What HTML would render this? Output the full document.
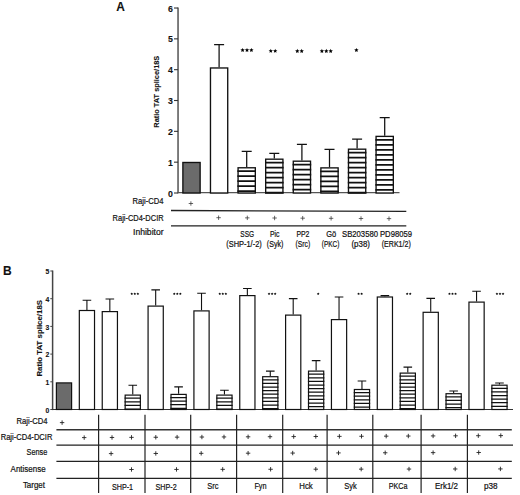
<!DOCTYPE html>
<html><head><meta charset="utf-8"><style>
html,body{margin:0;padding:0;background:#fff;}
svg{display:block;font-family:"Liberation Sans", sans-serif;}
</style></head><body>
<svg width="520" height="495" viewBox="0 0 520 495">
<rect width="520" height="495" fill="#fff"/>
<text x="116.2" y="10.5" font-size="11.9" text-anchor="start" font-weight="bold" fill="#111" stroke="#111" stroke-width="0.1" >A</text>
<path d="M178.05 7.52V193.3" stroke="#777" stroke-width="1.9" fill="none"/>
<path d="M174 193.00H178.05" stroke="#333" stroke-width="1.1"/>
<text x="172.9" y="196.5" font-size="8.8" text-anchor="end" font-weight="bold" fill="#111" stroke="#111" stroke-width="0.1" >0</text>
<path d="M174 162.17H178.05" stroke="#333" stroke-width="1.1"/>
<text x="172.9" y="165.67000000000002" font-size="8.8" text-anchor="end" font-weight="bold" fill="#111" stroke="#111" stroke-width="0.1" >1</text>
<path d="M174 131.34H178.05" stroke="#333" stroke-width="1.1"/>
<text x="172.9" y="134.84" font-size="8.8" text-anchor="end" font-weight="bold" fill="#111" stroke="#111" stroke-width="0.1" >2</text>
<path d="M174 100.51H178.05" stroke="#333" stroke-width="1.1"/>
<text x="172.9" y="104.01" font-size="8.8" text-anchor="end" font-weight="bold" fill="#111" stroke="#111" stroke-width="0.1" >3</text>
<path d="M174 69.68H178.05" stroke="#333" stroke-width="1.1"/>
<text x="172.9" y="73.18" font-size="8.8" text-anchor="end" font-weight="bold" fill="#111" stroke="#111" stroke-width="0.1" >4</text>
<path d="M174 38.85H178.05" stroke="#333" stroke-width="1.1"/>
<text x="172.9" y="42.35000000000002" font-size="8.8" text-anchor="end" font-weight="bold" fill="#111" stroke="#111" stroke-width="0.1" >5</text>
<path d="M174 8.02H178.05" stroke="#333" stroke-width="1.1"/>
<text x="172.9" y="11.52000000000001" font-size="8.8" text-anchor="end" font-weight="bold" fill="#111" stroke="#111" stroke-width="0.1" >6</text>
<text x="0" y="0" font-size="8.0" text-anchor="middle" font-weight="bold" fill="#111" stroke="#111" stroke-width="0.1" textLength="72" lengthAdjust="spacingAndGlyphs" transform="translate(159.2 91.7) rotate(-90)">Ratio TAT splice/18S</text>
<path d="M177.35000000000002 192.60H399.5" stroke="#555" stroke-width="1.3"/>
<rect x="182.88" y="162.48" width="17.25" height="30.52" fill="#6b6b6b" stroke="#111" stroke-width="1.35"/>
<path d="M219.10 67.30V44.65M214.10 44.65H224.10" stroke="#111" stroke-width="1.25" fill="none"/><rect x="210.47" y="67.97" width="17.25" height="125.03" fill="#fff" stroke="#111" stroke-width="1.35"/>
<path d="M246.70 167.10V151.30M241.70 151.30H251.70" stroke="#111" stroke-width="1.25" fill="none"/><rect x="238.07" y="167.78" width="17.25" height="25.23" fill="#fff" stroke="#111" stroke-width="1.35"/><path d="M237.40 171.20H256.00M237.40 176.20H256.00M237.40 181.20H256.00M237.40 186.20H256.00M237.40 191.20H256.00" stroke="#111" stroke-width="1.75" fill="none"/>
<path d="M274.30 158.50V153.30M269.30 153.30H279.30" stroke="#111" stroke-width="1.25" fill="none"/><rect x="265.68" y="159.18" width="17.25" height="33.83" fill="#fff" stroke="#111" stroke-width="1.35"/><path d="M265.00 162.60H283.60M265.00 167.60H283.60M265.00 172.60H283.60M265.00 177.60H283.60M265.00 182.60H283.60M265.00 187.60H283.60M265.00 192.60H283.60" stroke="#111" stroke-width="1.75" fill="none"/>
<path d="M301.90 160.50V144.30M296.90 144.30H306.90" stroke="#111" stroke-width="1.25" fill="none"/><rect x="293.28" y="161.18" width="17.25" height="31.82" fill="#fff" stroke="#111" stroke-width="1.35"/><path d="M292.60 164.60H311.20M292.60 169.60H311.20M292.60 174.60H311.20M292.60 179.60H311.20M292.60 184.60H311.20M292.60 189.60H311.20" stroke="#111" stroke-width="1.75" fill="none"/>
<path d="M329.50 167.20V149.40M324.50 149.40H334.50" stroke="#111" stroke-width="1.25" fill="none"/><rect x="320.88" y="167.88" width="17.25" height="25.13" fill="#fff" stroke="#111" stroke-width="1.35"/><path d="M320.20 171.30H338.80M320.20 176.30H338.80M320.20 181.30H338.80M320.20 186.30H338.80M320.20 191.30H338.80" stroke="#111" stroke-width="1.75" fill="none"/>
<path d="M357.10 148.50V139.20M352.10 139.20H362.10" stroke="#111" stroke-width="1.25" fill="none"/><rect x="348.48" y="149.18" width="17.25" height="43.83" fill="#fff" stroke="#111" stroke-width="1.35"/><path d="M347.80 152.60H366.40M347.80 157.60H366.40M347.80 162.60H366.40M347.80 167.60H366.40M347.80 172.60H366.40M347.80 177.60H366.40M347.80 182.60H366.40M347.80 187.60H366.40M347.80 192.60H366.40" stroke="#111" stroke-width="1.75" fill="none"/>
<path d="M384.70 135.70V117.50M379.70 117.50H389.70" stroke="#111" stroke-width="1.25" fill="none"/><rect x="376.07" y="136.38" width="17.25" height="56.63" fill="#fff" stroke="#111" stroke-width="1.35"/><path d="M375.40 139.80H394.00M375.40 144.80H394.00M375.40 149.80H394.00M375.40 154.80H394.00M375.40 159.80H394.00M375.40 164.80H394.00M375.40 169.80H394.00M375.40 174.80H394.00M375.40 179.80H394.00M375.40 184.80H394.00M375.40 189.80H394.00" stroke="#111" stroke-width="1.75" fill="none"/>
<polygon points="242.60,47.90 243.21,49.36 244.79,49.49 243.58,50.52 243.95,52.06 242.60,51.23 241.25,52.06 241.62,50.52 240.41,49.49 241.99,49.36" fill="#000"/><polygon points="247.00,47.90 247.61,49.36 249.19,49.49 247.98,50.52 248.35,52.06 247.00,51.23 245.65,52.06 246.02,50.52 244.81,49.49 246.39,49.36" fill="#000"/><polygon points="251.40,47.90 252.01,49.36 253.59,49.49 252.38,50.52 252.75,52.06 251.40,51.23 250.05,52.06 250.42,50.52 249.21,49.49 250.79,49.36" fill="#000"/>
<polygon points="270.80,48.70 271.41,50.16 272.99,50.29 271.78,51.32 272.15,52.86 270.80,52.03 269.45,52.86 269.82,51.32 268.61,50.29 270.19,50.16" fill="#000"/><polygon points="275.20,48.70 275.81,50.16 277.39,50.29 276.18,51.32 276.55,52.86 275.20,52.03 273.85,52.86 274.22,51.32 273.01,50.29 274.59,50.16" fill="#000"/>
<polygon points="297.30,48.80 297.91,50.26 299.49,50.39 298.28,51.42 298.65,52.96 297.30,52.13 295.95,52.96 296.32,51.42 295.11,50.39 296.69,50.26" fill="#000"/><polygon points="301.70,48.80 302.31,50.26 303.89,50.39 302.68,51.42 303.05,52.96 301.70,52.13 300.35,52.96 300.72,51.42 299.51,50.39 301.09,50.26" fill="#000"/>
<polygon points="321.90,48.80 322.51,50.26 324.09,50.39 322.88,51.42 323.25,52.96 321.90,52.13 320.55,52.96 320.92,51.42 319.71,50.39 321.29,50.26" fill="#000"/><polygon points="326.30,48.80 326.91,50.26 328.49,50.39 327.28,51.42 327.65,52.96 326.30,52.13 324.95,52.96 325.32,51.42 324.11,50.39 325.69,50.26" fill="#000"/><polygon points="330.70,48.80 331.31,50.26 332.89,50.39 331.68,51.42 332.05,52.96 330.70,52.13 329.35,52.96 329.72,51.42 328.51,50.39 330.09,50.26" fill="#000"/>
<polygon points="356.40,47.90 357.01,49.36 358.59,49.49 357.38,50.52 357.75,52.06 356.40,51.23 355.05,52.06 355.42,50.52 354.21,49.49 355.79,49.36" fill="#000"/>
<text x="163.6" y="203.6" font-size="8.3" text-anchor="end" font-weight="normal" fill="#111" stroke="#111" stroke-width="0.2" textLength="31.0" lengthAdjust="spacingAndGlyphs" >Raji-CD4</text>
<text x="163.6" y="220.8" font-size="8.3" text-anchor="end" font-weight="normal" fill="#111" stroke="#111" stroke-width="0.2" textLength="51.0" lengthAdjust="spacingAndGlyphs" >Raji-CD4-DCIR</text>
<text x="163.6" y="235.1" font-size="8.3" text-anchor="end" font-weight="normal" fill="#111" stroke="#111" stroke-width="0.2" textLength="30.6" lengthAdjust="spacingAndGlyphs" >Inhibitor</text>
<path d="M171 210.5L406.3 211.4M171 225.8H406.3" stroke="#222" stroke-width="1.3"/>
<path d="M188.70 203.50H193.10M190.90 201.30V205.70" stroke="#333" stroke-width="0.75" fill="none"/>
<path d="M216.40 217.70H220.80M218.60 215.50V219.90" stroke="#333" stroke-width="0.75" fill="none"/>
<path d="M245.10 217.86H249.50M247.30 215.66V220.06" stroke="#333" stroke-width="0.75" fill="none"/>
<path d="M272.40 218.01H276.80M274.60 215.81V220.21" stroke="#333" stroke-width="0.75" fill="none"/>
<path d="M300.50 218.17H304.90M302.70 215.97V220.37" stroke="#333" stroke-width="0.75" fill="none"/>
<path d="M328.90 218.32H333.30M331.10 216.12V220.52" stroke="#333" stroke-width="0.75" fill="none"/>
<path d="M358.80 218.49H363.20M361.00 216.29V220.69" stroke="#333" stroke-width="0.75" fill="none"/>
<path d="M386.80 218.64H391.20M389.00 216.44V220.84" stroke="#333" stroke-width="0.75" fill="none"/>
<text x="247.2" y="236.8" font-size="8.2" text-anchor="middle" font-weight="normal" fill="#111" stroke="#111" stroke-width="0.2" textLength="13.8" lengthAdjust="spacingAndGlyphs" >SSG</text>
<text x="274.7" y="236.8" font-size="8.2" text-anchor="middle" font-weight="normal" fill="#111" stroke="#111" stroke-width="0.2" textLength="9.5" lengthAdjust="spacingAndGlyphs" >Pic</text>
<text x="302.9" y="236.8" font-size="8.2" text-anchor="middle" font-weight="normal" fill="#111" stroke="#111" stroke-width="0.2" textLength="13.0" lengthAdjust="spacingAndGlyphs" >PP2</text>
<text x="331.3" y="236.8" font-size="8.2" text-anchor="middle" font-weight="normal" fill="#111" stroke="#111" stroke-width="0.2" textLength="10.0" lengthAdjust="spacingAndGlyphs" >G&#246;</text>
<text x="360.0" y="236.8" font-size="8.2" text-anchor="middle" font-weight="normal" fill="#111" stroke="#111" stroke-width="0.2" textLength="36.0" lengthAdjust="spacingAndGlyphs" >SB203580</text>
<text x="396.0" y="236.8" font-size="8.2" text-anchor="middle" font-weight="normal" fill="#111" stroke="#111" stroke-width="0.2" textLength="32.0" lengthAdjust="spacingAndGlyphs" >PD98059</text>
<text x="244.0" y="246.9" font-size="8.2" text-anchor="middle" font-weight="normal" fill="#111" stroke="#111" stroke-width="0.2" textLength="35.5" lengthAdjust="spacingAndGlyphs" >(SHP-1/-2)</text>
<text x="275.1" y="246.9" font-size="8.2" text-anchor="middle" font-weight="normal" fill="#111" stroke="#111" stroke-width="0.2" textLength="16.5" lengthAdjust="spacingAndGlyphs" >(Syk)</text>
<text x="302.9" y="246.9" font-size="8.2" text-anchor="middle" font-weight="normal" fill="#111" stroke="#111" stroke-width="0.2" textLength="14.6" lengthAdjust="spacingAndGlyphs" >(Src)</text>
<text x="330.6" y="246.9" font-size="8.2" text-anchor="middle" font-weight="normal" fill="#111" stroke="#111" stroke-width="0.2" textLength="17.6" lengthAdjust="spacingAndGlyphs" >(PKC)</text>
<text x="360.7" y="246.9" font-size="8.2" text-anchor="middle" font-weight="normal" fill="#111" stroke="#111" stroke-width="0.2" textLength="18.5" lengthAdjust="spacingAndGlyphs" >(p38)</text>
<text x="396.25" y="246.9" font-size="8.2" text-anchor="middle" font-weight="normal" fill="#111" stroke="#111" stroke-width="0.2" textLength="29.0" lengthAdjust="spacingAndGlyphs" >(ERK1/2)</text>
<text x="2.9" y="274.5" font-size="12.0" text-anchor="start" font-weight="bold" fill="#111" stroke="#111" stroke-width="0.1" >B</text>
<path d="M52.6 270.50V410.1" stroke="#444" stroke-width="1.5" fill="none"/>
<path d="M50.3 409.50H52.6" stroke="#444" stroke-width="1.0"/>
<text x="49.2" y="412.6" font-size="6.8" text-anchor="end" font-weight="bold" fill="#111" stroke="#111" stroke-width="0.1" >0</text>
<path d="M50.3 381.80H52.6" stroke="#444" stroke-width="1.0"/>
<text x="49.2" y="384.90000000000003" font-size="6.8" text-anchor="end" font-weight="bold" fill="#111" stroke="#111" stroke-width="0.1" >1</text>
<path d="M50.3 354.10H52.6" stroke="#444" stroke-width="1.0"/>
<text x="49.2" y="357.20000000000005" font-size="6.8" text-anchor="end" font-weight="bold" fill="#111" stroke="#111" stroke-width="0.1" >2</text>
<path d="M50.3 326.40H52.6" stroke="#444" stroke-width="1.0"/>
<text x="49.2" y="329.5" font-size="6.8" text-anchor="end" font-weight="bold" fill="#111" stroke="#111" stroke-width="0.1" >3</text>
<path d="M50.3 298.70H52.6" stroke="#444" stroke-width="1.0"/>
<text x="49.2" y="301.8" font-size="6.8" text-anchor="end" font-weight="bold" fill="#111" stroke="#111" stroke-width="0.1" >4</text>
<path d="M50.3 271.00H52.6" stroke="#444" stroke-width="1.0"/>
<text x="49.2" y="274.1" font-size="6.8" text-anchor="end" font-weight="bold" fill="#111" stroke="#111" stroke-width="0.1" >5</text>
<text x="0" y="0" font-size="7.4" text-anchor="middle" font-weight="bold" fill="#111" stroke="#111" stroke-width="0.1" textLength="76.6" lengthAdjust="spacingAndGlyphs" transform="translate(42.0 338.3) rotate(-90)">Ratio TAT splice/18S</text>
<path d="M52.0 409.50H513" stroke="#333" stroke-width="1.2"/>
<rect x="56.40" y="382.90" width="15.20" height="26.60" fill="#6b6b6b" stroke="#111" stroke-width="1.2"/>
<path d="M86.92 309.90V300.30M82.62 300.30H91.22" stroke="#111" stroke-width="1.1" fill="none"/><rect x="79.32" y="310.50" width="15.20" height="99.00" fill="#fff" stroke="#111" stroke-width="1.2"/>
<path d="M109.84 311.00V299.00M105.54 299.00H114.14" stroke="#111" stroke-width="1.1" fill="none"/><rect x="102.24" y="311.60" width="15.20" height="97.90" fill="#fff" stroke="#111" stroke-width="1.2"/>
<path d="M132.76 394.50V385.20M128.46 385.20H137.06" stroke="#111" stroke-width="1.1" fill="none"/><rect x="125.16" y="395.10" width="15.20" height="14.40" fill="#fff" stroke="#111" stroke-width="1.2"/><path d="M124.56 398.20H140.96M124.56 401.80H140.96M124.56 405.40H140.96M124.56 409.00H140.96" stroke="#111" stroke-width="1.25" fill="none"/>
<path d="M155.68 305.50V289.90M151.38 289.90H159.98" stroke="#111" stroke-width="1.1" fill="none"/><rect x="148.08" y="306.10" width="15.20" height="103.40" fill="#fff" stroke="#111" stroke-width="1.2"/>
<path d="M178.60 393.80V386.90M174.30 386.90H182.90" stroke="#111" stroke-width="1.1" fill="none"/><rect x="171.00" y="394.40" width="15.20" height="15.10" fill="#fff" stroke="#111" stroke-width="1.2"/><path d="M170.40 397.50H186.80M170.40 401.10H186.80M170.40 404.70H186.80M170.40 408.30H186.80" stroke="#111" stroke-width="1.25" fill="none"/>
<path d="M201.52 310.30V293.30M197.22 293.30H205.82" stroke="#111" stroke-width="1.1" fill="none"/><rect x="193.92" y="310.90" width="15.20" height="98.60" fill="#fff" stroke="#111" stroke-width="1.2"/>
<path d="M224.44 394.50V390.30M220.14 390.30H228.74" stroke="#111" stroke-width="1.1" fill="none"/><rect x="216.84" y="395.10" width="15.20" height="14.40" fill="#fff" stroke="#111" stroke-width="1.2"/><path d="M216.24 398.20H232.64M216.24 401.80H232.64M216.24 405.40H232.64M216.24 409.00H232.64" stroke="#111" stroke-width="1.25" fill="none"/>
<path d="M247.36 295.00V288.50M243.06 288.50H251.66" stroke="#111" stroke-width="1.1" fill="none"/><rect x="239.76" y="295.60" width="15.20" height="113.90" fill="#fff" stroke="#111" stroke-width="1.2"/>
<path d="M270.28 376.10V371.10M265.98 371.10H274.58" stroke="#111" stroke-width="1.1" fill="none"/><rect x="262.68" y="376.70" width="15.20" height="32.80" fill="#fff" stroke="#111" stroke-width="1.2"/><path d="M262.08 379.80H278.48M262.08 383.40H278.48M262.08 387.00H278.48M262.08 390.60H278.48M262.08 394.20H278.48M262.08 397.80H278.48M262.08 401.40H278.48M262.08 405.00H278.48M262.08 408.60H278.48" stroke="#111" stroke-width="1.25" fill="none"/>
<path d="M293.20 314.50V298.60M288.90 298.60H297.50" stroke="#111" stroke-width="1.1" fill="none"/><rect x="285.60" y="315.10" width="15.20" height="94.40" fill="#fff" stroke="#111" stroke-width="1.2"/>
<path d="M316.12 370.50V360.60M311.82 360.60H320.42" stroke="#111" stroke-width="1.1" fill="none"/><rect x="308.52" y="371.10" width="15.20" height="38.40" fill="#fff" stroke="#111" stroke-width="1.2"/><path d="M307.92 374.20H324.32M307.92 377.80H324.32M307.92 381.40H324.32M307.92 385.00H324.32M307.92 388.60H324.32M307.92 392.20H324.32M307.92 395.80H324.32M307.92 399.40H324.32M307.92 403.00H324.32M307.92 406.60H324.32" stroke="#111" stroke-width="1.25" fill="none"/>
<path d="M339.04 319.00V297.00M334.74 297.00H343.34" stroke="#111" stroke-width="1.1" fill="none"/><rect x="331.44" y="319.60" width="15.20" height="89.90" fill="#fff" stroke="#111" stroke-width="1.2"/>
<path d="M361.96 388.90V381.00M357.66 381.00H366.26" stroke="#111" stroke-width="1.1" fill="none"/><rect x="354.36" y="389.50" width="15.20" height="20.00" fill="#fff" stroke="#111" stroke-width="1.2"/><path d="M353.76 392.60H370.16M353.76 396.20H370.16M353.76 399.80H370.16M353.76 403.40H370.16M353.76 407.00H370.16" stroke="#111" stroke-width="1.25" fill="none"/>
<path d="M384.88 296.40V295.60M380.58 295.60H389.18" stroke="#111" stroke-width="1.1" fill="none"/><rect x="377.28" y="297.00" width="15.20" height="112.50" fill="#fff" stroke="#111" stroke-width="1.2"/>
<path d="M407.80 372.50V367.10M403.50 367.10H412.10" stroke="#111" stroke-width="1.1" fill="none"/><rect x="400.20" y="373.10" width="15.20" height="36.40" fill="#fff" stroke="#111" stroke-width="1.2"/><path d="M399.60 376.20H416.00M399.60 379.80H416.00M399.60 383.40H416.00M399.60 387.00H416.00M399.60 390.60H416.00M399.60 394.20H416.00M399.60 397.80H416.00M399.60 401.40H416.00M399.60 405.00H416.00M399.60 408.60H416.00" stroke="#111" stroke-width="1.25" fill="none"/>
<path d="M430.72 311.70V298.40M426.42 298.40H435.02" stroke="#111" stroke-width="1.1" fill="none"/><rect x="423.12" y="312.30" width="15.20" height="97.20" fill="#fff" stroke="#111" stroke-width="1.2"/>
<path d="M453.64 393.10V391.00M449.34 391.00H457.94" stroke="#111" stroke-width="1.1" fill="none"/><rect x="446.04" y="393.70" width="15.20" height="15.80" fill="#fff" stroke="#111" stroke-width="1.2"/><path d="M445.44 396.80H461.84M445.44 400.40H461.84M445.44 404.00H461.84M445.44 407.60H461.84" stroke="#111" stroke-width="1.25" fill="none"/>
<path d="M476.56 301.50V291.30M472.26 291.30H480.86" stroke="#111" stroke-width="1.1" fill="none"/><rect x="468.96" y="302.10" width="15.20" height="107.40" fill="#fff" stroke="#111" stroke-width="1.2"/>
<path d="M499.48 384.60V383.00M495.18 383.00H503.78" stroke="#111" stroke-width="1.1" fill="none"/><rect x="491.88" y="385.20" width="15.20" height="24.30" fill="#fff" stroke="#111" stroke-width="1.2"/><path d="M491.28 388.30H507.68M491.28 391.90H507.68M491.28 395.50H507.68M491.28 399.10H507.68M491.28 402.70H507.68M491.28 406.30H507.68" stroke="#111" stroke-width="1.25" fill="none"/>
<polygon points="131.75,292.40 132.15,293.35 133.18,293.44 132.39,294.11 132.63,295.11 131.75,294.57 130.87,295.11 131.11,294.11 130.32,293.44 131.35,293.35" fill="#000"/><polygon points="134.80,292.40 135.20,293.35 136.23,293.44 135.44,294.11 135.68,295.11 134.80,294.57 133.92,295.11 134.16,294.11 133.37,293.44 134.40,293.35" fill="#000"/><polygon points="137.85,292.40 138.25,293.35 139.28,293.44 138.49,294.11 138.73,295.11 137.85,294.57 136.97,295.11 137.21,294.11 136.42,293.44 137.45,293.35" fill="#000"/>
<polygon points="174.25,292.40 174.65,293.35 175.68,293.44 174.89,294.11 175.13,295.11 174.25,294.57 173.37,295.11 173.61,294.11 172.82,293.44 173.85,293.35" fill="#000"/><polygon points="177.30,292.40 177.70,293.35 178.73,293.44 177.94,294.11 178.18,295.11 177.30,294.57 176.42,295.11 176.66,294.11 175.87,293.44 176.90,293.35" fill="#000"/><polygon points="180.35,292.40 180.75,293.35 181.78,293.44 180.99,294.11 181.23,295.11 180.35,294.57 179.47,295.11 179.71,294.11 178.92,293.44 179.95,293.35" fill="#000"/>
<polygon points="219.75,292.40 220.15,293.35 221.18,293.44 220.39,294.11 220.63,295.11 219.75,294.57 218.87,295.11 219.11,294.11 218.32,293.44 219.35,293.35" fill="#000"/><polygon points="222.80,292.40 223.20,293.35 224.23,293.44 223.44,294.11 223.68,295.11 222.80,294.57 221.92,295.11 222.16,294.11 221.37,293.44 222.40,293.35" fill="#000"/><polygon points="225.85,292.40 226.25,293.35 227.28,293.44 226.49,294.11 226.73,295.11 225.85,294.57 224.97,295.11 225.21,294.11 224.42,293.44 225.45,293.35" fill="#000"/>
<polygon points="269.05,292.40 269.45,293.35 270.48,293.44 269.69,294.11 269.93,295.11 269.05,294.57 268.17,295.11 268.41,294.11 267.62,293.44 268.65,293.35" fill="#000"/><polygon points="272.10,292.40 272.50,293.35 273.53,293.44 272.74,294.11 272.98,295.11 272.10,294.57 271.22,295.11 271.46,294.11 270.67,293.44 271.70,293.35" fill="#000"/><polygon points="275.15,292.40 275.55,293.35 276.58,293.44 275.79,294.11 276.03,295.11 275.15,294.57 274.27,295.11 274.51,294.11 273.72,293.44 274.75,293.35" fill="#000"/>
<polygon points="318.20,292.40 318.60,293.35 319.63,293.44 318.84,294.11 319.08,295.11 318.20,294.57 317.32,295.11 317.56,294.11 316.77,293.44 317.80,293.35" fill="#000"/>
<polygon points="358.58,292.40 358.97,293.35 360.00,293.44 359.22,294.11 359.46,295.11 358.58,294.57 357.69,295.11 357.93,294.11 357.15,293.44 358.18,293.35" fill="#000"/><polygon points="361.63,292.40 362.02,293.35 363.05,293.44 362.27,294.11 362.51,295.11 361.63,294.57 360.74,295.11 360.98,294.11 360.20,293.44 361.23,293.35" fill="#000"/>
<polygon points="407.18,292.40 407.57,293.35 408.60,293.44 407.82,294.11 408.06,295.11 407.18,294.57 406.29,295.11 406.53,294.11 405.75,293.44 406.78,293.35" fill="#000"/><polygon points="410.23,292.40 410.62,293.35 411.65,293.44 410.87,294.11 411.11,295.11 410.23,294.57 409.34,295.11 409.58,294.11 408.80,293.44 409.83,293.35" fill="#000"/>
<polygon points="449.45,292.40 449.85,293.35 450.88,293.44 450.09,294.11 450.33,295.11 449.45,294.57 448.57,295.11 448.81,294.11 448.02,293.44 449.05,293.35" fill="#000"/><polygon points="452.50,292.40 452.90,293.35 453.93,293.44 453.14,294.11 453.38,295.11 452.50,294.57 451.62,295.11 451.86,294.11 451.07,293.44 452.10,293.35" fill="#000"/><polygon points="455.55,292.40 455.95,293.35 456.98,293.44 456.19,294.11 456.43,295.11 455.55,294.57 454.67,295.11 454.91,294.11 454.12,293.44 455.15,293.35" fill="#000"/>
<polygon points="496.95,292.40 497.35,293.35 498.38,293.44 497.59,294.11 497.83,295.11 496.95,294.57 496.07,295.11 496.31,294.11 495.52,293.44 496.55,293.35" fill="#000"/><polygon points="500.00,292.40 500.40,293.35 501.43,293.44 500.64,294.11 500.88,295.11 500.00,294.57 499.12,295.11 499.36,294.11 498.57,293.44 499.60,293.35" fill="#000"/><polygon points="503.05,292.40 503.45,293.35 504.48,293.44 503.69,294.11 503.93,295.11 503.05,294.57 502.17,295.11 502.41,294.11 501.62,293.44 502.65,293.35" fill="#000"/>
<text x="47.6" y="423.5" font-size="8.4" text-anchor="end" font-weight="normal" fill="#111" stroke="#111" stroke-width="0.2" textLength="31.0" lengthAdjust="spacingAndGlyphs" >Raji-CD4</text>
<text x="52.4" y="440.4" font-size="8.4" text-anchor="end" font-weight="normal" fill="#111" stroke="#111" stroke-width="0.2" textLength="51.7" lengthAdjust="spacingAndGlyphs" >Raji-CD4-DCIR</text>
<text x="47.3" y="454.8" font-size="8.4" text-anchor="end" font-weight="normal" fill="#111" stroke="#111" stroke-width="0.2" textLength="20.7" lengthAdjust="spacingAndGlyphs" >Sense</text>
<text x="45.6" y="471.8" font-size="8.4" text-anchor="end" font-weight="normal" fill="#111" stroke="#111" stroke-width="0.2" textLength="35.0" lengthAdjust="spacingAndGlyphs" >Antisense</text>
<text x="45.0" y="488.4" font-size="8.4" text-anchor="end" font-weight="normal" fill="#111" stroke="#111" stroke-width="0.2" textLength="22.1" lengthAdjust="spacingAndGlyphs" >Target</text>
<path d="M56.4 429.8H511.8" stroke="#333" stroke-width="1.6"/>
<path d="M56.4 445.1H513M56.4 461.3H511.8M56.4 478.3H511.8" stroke="#222" stroke-width="1.3"/>
<path d="M98.6 414.8V493M145.0 414.8V493M190.7 414.8V493M236.6 414.8V493M282.7 414.8V493M327.1 414.8V493M372.8 414.8V493M421.1 414.8V493M467.4 414.8V493" stroke="#222" stroke-width="1.2"/>
<path d="M59.90 422.60H64.30M62.10 420.40V424.80" stroke="#222" stroke-width="0.9" fill="none"/>
<path d="M82.00 437.60H86.40M84.20 435.40V439.80" stroke="#222" stroke-width="0.9" fill="none"/>
<path d="M109.80 437.47H114.20M112.00 435.27V439.67" stroke="#222" stroke-width="0.9" fill="none"/>
<path d="M129.30 437.37H133.70M131.50 435.17V439.57" stroke="#222" stroke-width="0.9" fill="none"/>
<path d="M153.60 437.26H158.00M155.80 435.06V439.46" stroke="#222" stroke-width="0.9" fill="none"/>
<path d="M174.90 437.15H179.30M177.10 434.95V439.35" stroke="#222" stroke-width="0.9" fill="none"/>
<path d="M199.70 437.03H204.10M201.90 434.83V439.23" stroke="#222" stroke-width="0.9" fill="none"/>
<path d="M221.80 436.93H226.20M224.00 434.73V439.13" stroke="#222" stroke-width="0.9" fill="none"/>
<path d="M245.90 436.81H250.30M248.10 434.61V439.01" stroke="#222" stroke-width="0.9" fill="none"/>
<path d="M267.80 436.71H272.20M270.00 434.51V438.91" stroke="#222" stroke-width="0.9" fill="none"/>
<path d="M291.50 436.59H295.90M293.70 434.39V438.79" stroke="#222" stroke-width="0.9" fill="none"/>
<path d="M313.60 436.49H318.00M315.80 434.29V438.69" stroke="#222" stroke-width="0.9" fill="none"/>
<path d="M337.20 436.37H341.60M339.40 434.17V438.57" stroke="#222" stroke-width="0.9" fill="none"/>
<path d="M359.30 436.27H363.70M361.50 434.07V438.47" stroke="#222" stroke-width="0.9" fill="none"/>
<path d="M384.00 436.15H388.40M386.20 433.95V438.35" stroke="#222" stroke-width="0.9" fill="none"/>
<path d="M406.10 436.04H410.50M408.30 433.84V438.24" stroke="#222" stroke-width="0.9" fill="none"/>
<path d="M430.90 435.92H435.30M433.10 433.72V438.12" stroke="#222" stroke-width="0.9" fill="none"/>
<path d="M453.40 435.82H457.80M455.60 433.62V438.02" stroke="#222" stroke-width="0.9" fill="none"/>
<path d="M476.10 435.71H480.50M478.30 433.51V437.91" stroke="#222" stroke-width="0.9" fill="none"/>
<path d="M498.60 435.60H503.00M500.80 433.40V437.80" stroke="#222" stroke-width="0.9" fill="none"/>
<path d="M108.90 453.60H113.30M111.10 451.40V455.80" stroke="#222" stroke-width="0.9" fill="none"/>
<path d="M153.60 453.47H158.00M155.80 451.27V455.67" stroke="#222" stroke-width="0.9" fill="none"/>
<path d="M199.00 453.33H203.40M201.20 451.13V455.53" stroke="#222" stroke-width="0.9" fill="none"/>
<path d="M245.90 453.19H250.30M248.10 450.99V455.39" stroke="#222" stroke-width="0.9" fill="none"/>
<path d="M290.50 453.05H294.90M292.70 450.85V455.25" stroke="#222" stroke-width="0.9" fill="none"/>
<path d="M336.30 452.92H340.70M338.50 450.72V455.12" stroke="#222" stroke-width="0.9" fill="none"/>
<path d="M383.00 452.78H387.40M385.20 450.58V454.98" stroke="#222" stroke-width="0.9" fill="none"/>
<path d="M430.90 452.63H435.30M433.10 450.43V454.83" stroke="#222" stroke-width="0.9" fill="none"/>
<path d="M476.50 452.50H480.90M478.70 450.30V454.70" stroke="#222" stroke-width="0.9" fill="none"/>
<path d="M129.30 469.50H133.70M131.50 467.30V471.70" stroke="#222" stroke-width="0.9" fill="none"/>
<path d="M174.30 469.43H178.70M176.50 467.23V471.63" stroke="#222" stroke-width="0.9" fill="none"/>
<path d="M220.50 469.35H224.90M222.70 467.15V471.55" stroke="#222" stroke-width="0.9" fill="none"/>
<path d="M268.40 469.28H272.80M270.60 467.08V471.48" stroke="#222" stroke-width="0.9" fill="none"/>
<path d="M313.60 469.20H318.00M315.80 467.00V471.40" stroke="#222" stroke-width="0.9" fill="none"/>
<path d="M359.00 469.13H363.40M361.20 466.93V471.33" stroke="#222" stroke-width="0.9" fill="none"/>
<path d="M406.80 469.06H411.20M409.00 466.86V471.26" stroke="#222" stroke-width="0.9" fill="none"/>
<path d="M453.00 468.98H457.40M455.20 466.78V471.18" stroke="#222" stroke-width="0.9" fill="none"/>
<path d="M498.20 468.91H502.60M500.40 466.71V471.11" stroke="#222" stroke-width="0.9" fill="none"/>
<text x="122.5" y="489.59900000000005" font-size="8.4" text-anchor="middle" font-weight="normal" fill="#111" stroke="#111" stroke-width="0.2" textLength="21.2" lengthAdjust="spacingAndGlyphs" >SHP-1</text>
<text x="166.1" y="489.51180000000005" font-size="8.4" text-anchor="middle" font-weight="normal" fill="#111" stroke="#111" stroke-width="0.2" textLength="21.1" lengthAdjust="spacingAndGlyphs" >SHP-2</text>
<text x="212.9" y="489.4182" font-size="8.4" text-anchor="middle" font-weight="normal" fill="#111" stroke="#111" stroke-width="0.2" textLength="11.2" lengthAdjust="spacingAndGlyphs" >Src</text>
<text x="260.5" y="489.32300000000004" font-size="8.4" text-anchor="middle" font-weight="normal" fill="#111" stroke="#111" stroke-width="0.2" textLength="12.1" lengthAdjust="spacingAndGlyphs" >Fyn</text>
<text x="306" y="489.232" font-size="8.4" text-anchor="middle" font-weight="normal" fill="#111" stroke="#111" stroke-width="0.2" textLength="13.5" lengthAdjust="spacingAndGlyphs" >Hck</text>
<text x="350.6" y="489.1428" font-size="8.4" text-anchor="middle" font-weight="normal" fill="#111" stroke="#111" stroke-width="0.2" textLength="12.5" lengthAdjust="spacingAndGlyphs" >Syk</text>
<text x="398.1" y="489.0478" font-size="8.4" text-anchor="middle" font-weight="normal" fill="#111" stroke="#111" stroke-width="0.2" textLength="18.8" lengthAdjust="spacingAndGlyphs" >PKCa</text>
<text x="446.5" y="488.951" font-size="8.4" text-anchor="middle" font-weight="normal" fill="#111" stroke="#111" stroke-width="0.2" textLength="23.1" lengthAdjust="spacingAndGlyphs" >Erk1/2</text>
<text x="490.7" y="488.86260000000004" font-size="8.4" text-anchor="middle" font-weight="normal" fill="#111" stroke="#111" stroke-width="0.2" textLength="13.6" lengthAdjust="spacingAndGlyphs" >p38</text>
</svg>
</body></html>
